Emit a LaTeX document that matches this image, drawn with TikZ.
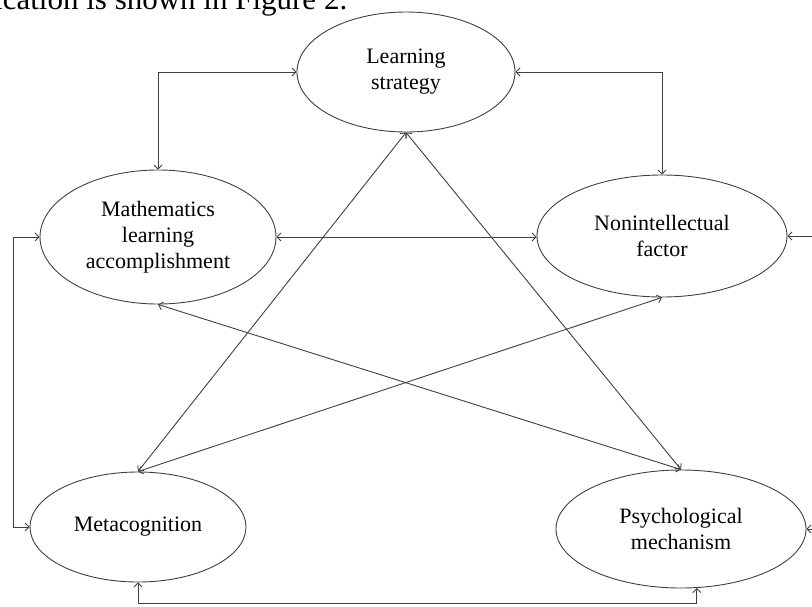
\documentclass[tikz,border=0pt]{standalone}
\usepackage{fontspec}
\setmainfont{Liberation Serif}
\usetikzlibrary{shapes.geometric,arrows.meta}
\begin{document}
\begin{tikzpicture}[x=1pt,y=-1pt,
  oval/.style={ellipse,draw=black!75,line width=0.9pt,inner sep=0pt,align=center,font=\fontsize{22}{26}\selectfont},
  link/.style={draw=black!75,line width=0.9pt},
  >={Straight Barb[length=4pt,width=8pt]}]
\useasboundingbox (0,0) rectangle (812,606);
\clip (0,0) rectangle (812,606);
\node[anchor=base west,font=\fontsize{31}{36}\selectfont,inner sep=0pt] (cap) at (-6,9.5) {ication is shown in Figure 2.};
\node[oval,minimum width=218pt,minimum height=120pt] (ls) at (406,72) {Learning\\strategy};
\node[oval,minimum width=236pt,minimum height=134pt] (math) at (158,237) {Mathematics\\learning\\accomplishment};
\node[oval,minimum width=250pt,minimum height=122pt] (non) at (662,236) {Nonintellectual\\factor};
\node[oval,minimum width=216pt,minimum height=110pt] (meta) at (138,527) {Metacognition};
\node[oval,minimum width=250pt,minimum height=118pt] (psy) at (681,529) {Psychological\\mechanism};
\coordinate (lx) at (13,0);
\coordinate (rx) at (830,0);
\coordinate (by) at (0,603);
\draw[link,<->] (ls.west) -| (math.north);
\draw[link,<->] (ls.east) -| (non.north);
\draw[link,<->] (math.east) -- (math.east -| non.west);
\draw[link,<->] (math.west) -- (math.west -| lx) |- (meta.west);
\draw[link,<->] (non.east) -- (non.east -| rx) |- (psy.east);
\draw[link,<->] (meta.south) -- (meta.south |- by) -| (psy.-75);
\draw[link,<->] (ls.south) -- (meta.north);
\draw[link,<->] (ls.south) -- (psy.north);
\draw[link,<->] (math.south) -- (psy.north);
\draw[link,<->] (non.south) -- (meta.north);
\end{tikzpicture}
\end{document}
